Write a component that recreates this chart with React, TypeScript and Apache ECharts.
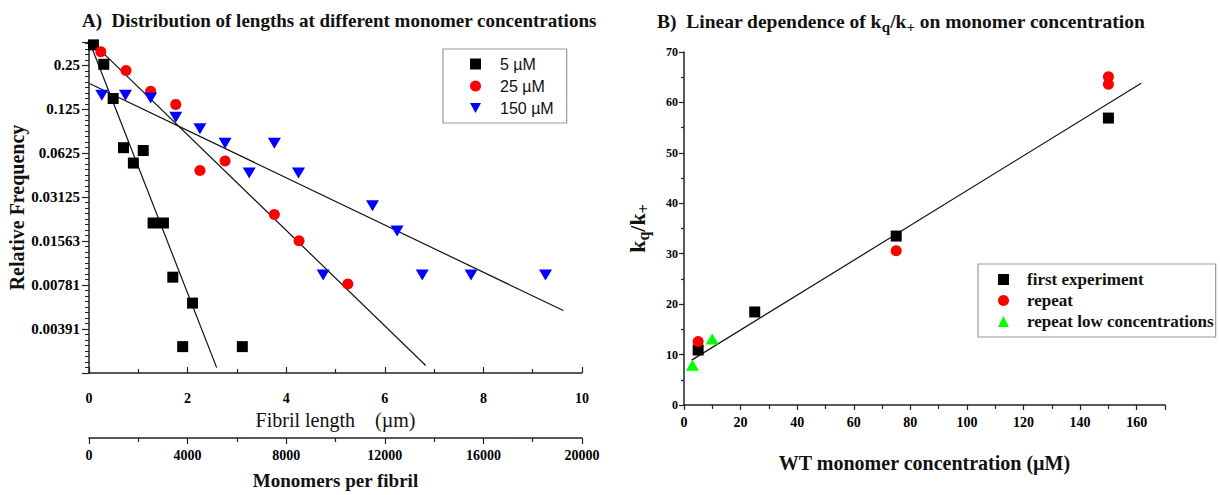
import React, { useEffect, useRef } from "react";
import * as echarts from "echarts";

// ---------- Panel A data ----------
const len5 = [0.09, 0.3, 0.49, 0.7, 0.9, 1.1, 1.3, 1.51, 1.7, 1.9, 2.1, 3.11];
const freq5 = [0.345, 0.254, 0.148, 0.0682, 0.0535, 0.0652, 0.0208, 0.0208, 0.00885, 0.00296, 0.00588, 0.00296];
const len25 = [0.24, 0.75, 1.25, 1.76, 2.25, 2.76, 3.76, 4.26, 5.25];
const freq25 = [0.31, 0.23, 0.166, 0.135, 0.0476, 0.0553, 0.0238, 0.0157, 0.00795];
const len150 = [0.26, 0.74, 1.25, 1.76, 2.25, 2.76, 3.25, 3.76, 4.25, 4.75, 5.75, 6.25, 6.76, 7.75, 9.26];
const freq150 = [0.156, 0.156, 0.149, 0.11, 0.0918, 0.073, 0.0457, 0.073, 0.0457, 0.00916, 0.0273, 0.0183, 0.00916, 0.00916, 0.00916];
const fit5Len = [0.02, 2.59];
const fit5Freq = [0.355, 0.002125];
const fit25Len = [0.2, 6.83];
const fit25Freq = [0.324, 0.0022];
const fit150Len = [0.02, 9.62];
const fit150Freq = [0.187, 0.00523];
const yTickLabels = ["0.25", "0.125", "0.0625", "0.03125", "0.01563", "0.00781", "0.00391"];
const legendA = ["5 µM", "25 µM", "150 µM"];
const freqMin = 0.001953125;
const freqMax = 0.361;

// ---------- Panel B data ----------
const concFirst = [5, 25, 75, 150];
const kFirst = [10.9, 18.45, 33.5, 56.9];
const concRepeat = [5, 75, 150, 150];
const kRepeat = [12.6, 30.6, 63.6, 65.1];
const concLow = [3, 10];
const kLow = [7.9, 13.1];
const fitConc = [2.7, 161.6];
const fitK = [8.9, 63.8];
const legendB = ["first experiment", "repeat", "repeat low concentrations"];

const zip = (xs: number[], ys: number[]) => xs.map((x, i) => [x, ys[i]]);

const SERIF = "Liberation Serif";
const SANS = "Liberation Sans";
const AX = "#222";
const DOWN_TRI = "path://M0,0L10,0L5,9Z";

export default function App() {
  const ref = useRef<HTMLDivElement>(null);
  useEffect(() => {
    if (!ref.current) return;
    const chart = echarts.init(ref.current, null, { renderer: "svg" });
    const boldLabel = (size: number) => ({
      color: "#000",
      fontFamily: SERIF,
      fontWeight: "bold" as const,
      fontSize: size,
      formatter: (v: number) => String(v),
    });
    const fitLine = (name: string, xi: number, yi: number, xs: number[], ys: number[]) => ({
      name,
      type: "line",
      xAxisIndex: xi,
      yAxisIndex: yi,
      data: zip(xs, ys),
      showSymbol: false,
      symbol: "none",
      lineStyle: { color: "#111", width: 1.2 },
      z: 1,
      silent: true,
    });
    const option: any = {
      animation: false,
      backgroundColor: "#fff",
      title: [
        {
          text: "A)  Distribution of lengths at different monomer concentrations",
          left: 82,
          top: 11,
          padding: 0,
          textStyle: { fontFamily: SERIF, fontWeight: "bold", fontSize: 19, color: "#111" },
        },
        {
          text: "{m|B)  Linear dependence of k}{s|q}{m|/k}{s|+}{m| on monomer concentration}",
          left: 657,
          top: 11,
          padding: 0,
          textStyle: {
            rich: {
              m: { fontFamily: SERIF, fontWeight: "bold", fontSize: 19.5, color: "#111", lineHeight: 19, verticalAlign: "top" },
              s: { fontFamily: SERIF, fontWeight: "bold", fontSize: 15, color: "#111", lineHeight: 23, verticalAlign: "bottom" },
            },
          },
        },
      ],
      legend: [
        {
          data: [legendA[0], legendA[1], { name: legendA[2], icon: DOWN_TRI }],
          orient: "vertical",
          left: 443,
          top: 49,
          padding: [7, 13, 7, 27],
          itemWidth: 11,
          itemHeight: 11,
          itemGap: 6,
          borderColor: "#999",
          borderWidth: 1.2,
          textStyle: { fontFamily: SANS, fontSize: 16, color: "#111", padding: [0, 0, 0, 14] },
        },
        {
          data: legendB,
          orient: "vertical",
          left: 978,
          top: 264,
          padding: [7, 2, 7, 20],
          itemWidth: 11,
          itemHeight: 11,
          itemGap: 4,
          borderColor: "#999",
          borderWidth: 1.2,
          textStyle: { fontFamily: SERIF, fontWeight: "bold", fontSize: 17, color: "#111", padding: [0, 0, 0, 13] },
        },
      ],
      grid: [
        { left: 89, top: 42, width: 493, height: 342 },
        { left: 684, top: 52, width: 481, height: 353 },
      ],
      xAxis: [
        {
          gridIndex: 0,
          type: "value",
          min: 0,
          max: 10,
          interval: 2,
          splitLine: { show: false },
          axisLine: { onZero: false, lineStyle: { color: AX, width: 1.5 } },
          axisTick: { inside: true, length: 6, lineStyle: { color: AX, width: 1.2 } },
          minorTick: { show: true, splitNumber: 2, length: 4, lineStyle: { color: AX, width: 1.2 } },
          axisLabel: { ...boldLabel(14), margin: 18 },
          name: "Fibril length    (µm)",
          nameLocation: "middle",
          nameGap: 34,
          nameTextStyle: { fontFamily: SERIF, fontSize: 20, color: "#111" },
        },
        {
          gridIndex: 0,
          type: "value",
          position: "bottom",
          offset: 65,
          min: 0,
          max: 20000,
          interval: 4000,
          splitLine: { show: false },
          axisLine: { onZero: false, lineStyle: { color: AX, width: 1.5 } },
          axisTick: { inside: false, length: 6, lineStyle: { color: AX, width: 1.2 } },
          minorTick: { show: true, splitNumber: 2, length: 4, lineStyle: { color: AX, width: 1.2 } },
          axisLabel: { ...boldLabel(14), margin: 10 },
          name: "Monomers per fibril",
          nameLocation: "middle",
          nameGap: 33,
          nameTextStyle: { fontFamily: SERIF, fontWeight: "bold", fontSize: 19, color: "#111" },
        },
        {
          gridIndex: 1,
          type: "value",
          min: 0,
          max: 170,
          interval: 20,
          splitLine: { show: false },
          axisLine: { onZero: false, lineStyle: { color: AX, width: 1.5 } },
          axisTick: { inside: false, length: 5, lineStyle: { color: AX, width: 1.2 } },
          minorTick: { show: true, splitNumber: 2, length: 4, lineStyle: { color: AX, width: 1.2 } },
          axisLabel: { ...boldLabel(14), margin: 10, showMaxLabel: false },
          name: "WT monomer concentration (µM)",
          nameLocation: "middle",
          nameGap: 48,
          nameTextStyle: { fontFamily: SERIF, fontWeight: "bold", fontSize: 20, color: "#111" },
        },
      ],
      yAxis: [
        {
          gridIndex: 0,
          type: "log",
          logBase: 2,
          min: freqMin,
          max: freqMax,
          splitNumber: 8,
          splitLine: { show: false },
          axisLine: { lineStyle: { color: AX, width: 1.5 } },
          axisTick: { inside: false, length: 7, lineStyle: { color: AX, width: 1.2 } },
          axisLabel: {
            color: "#000",
            fontFamily: SERIF,
            fontWeight: "bold",
            fontSize: 15,
            margin: 9,
            formatter: (v: number) => {
              const l = Math.log2(v);
              const e = Math.round(l);
              if (Math.abs(l - e) > 1e-6) return "";
              return yTickLabels[-2 - e] ?? "";
            },
          },
          name: "Relative Frequency",
          nameLocation: "middle",
          nameGap: 61,
          nameTextStyle: { fontFamily: SERIF, fontWeight: "bold", fontSize: 20, color: "#111" },
          z: 3,
        },
        {
          gridIndex: 1,
          type: "value",
          min: 0,
          max: 70,
          interval: 10,
          splitLine: { show: false },
          axisLine: { onZero: false, lineStyle: { color: AX, width: 1.5 } },
          axisTick: { inside: false, length: 5, lineStyle: { color: AX, width: 1.2 } },
          minorTick: { show: true, splitNumber: 2, length: 3, lineStyle: { color: AX, width: 1.2 } },
          axisLabel: { ...boldLabel(12), margin: 6 },
          name: "{m|k}{s|q}{m|/k}{s|+}",
          nameLocation: "middle",
          nameGap: 33,
          nameTextStyle: {
            rich: {
              m: { fontFamily: SERIF, fontWeight: "bold", fontSize: 22, color: "#111", lineHeight: 22, verticalAlign: "top" },
              s: { fontFamily: SERIF, fontWeight: "bold", fontSize: 16, color: "#111", lineHeight: 25, verticalAlign: "bottom" },
            },
          },
        },
        {
          // minor ticks of the log2 axis (one eighth of a doubling each)
          gridIndex: 0,
          type: "value",
          position: "left",
          min: Math.log2(freqMin),
          max: Math.log2(freqMax),
          interval: 0.125,
          splitLine: { show: false },
          axisLine: { show: false },
          axisTick: { inside: false, length: 4, lineStyle: { color: AX, width: 1 } },
          axisLabel: { show: false },
          silent: true,
        },
      ],
      series: [
        fitLine("fit5", 0, 0, fit5Len, fit5Freq),
        fitLine("fit25", 0, 0, fit25Len, fit25Freq),
        fitLine("fit150", 0, 0, fit150Len, fit150Freq),
        {
          name: legendA[0],
          type: "scatter",
          xAxisIndex: 0,
          yAxisIndex: 0,
          data: zip(len5, freq5),
          symbol: "rect",
          symbolSize: 11,
          itemStyle: { color: "#000", opacity: 1 },
          z: 3,
        },
        {
          name: legendA[1],
          type: "scatter",
          xAxisIndex: 0,
          yAxisIndex: 0,
          data: zip(len25, freq25),
          symbol: "circle",
          symbolSize: 11,
          itemStyle: { color: "#ff0000", opacity: 1 },
          z: 3,
        },
        {
          name: legendA[2],
          type: "scatter",
          xAxisIndex: 0,
          yAxisIndex: 0,
          data: zip(len150, freq150),
          symbol: "triangle",
          symbolRotate: 180,
          symbolSize: [13, 11],
          itemStyle: { color: "#0000ff", opacity: 1 },
          z: 3,
        },
        fitLine("fitB", 2, 1, fitConc, fitK),
        {
          name: legendB[0],
          type: "scatter",
          xAxisIndex: 2,
          yAxisIndex: 1,
          data: zip(concFirst, kFirst),
          symbol: "rect",
          symbolSize: 11,
          itemStyle: { color: "#000", opacity: 1 },
          z: 3,
        },
        {
          name: legendB[1],
          type: "scatter",
          xAxisIndex: 2,
          yAxisIndex: 1,
          data: zip(concRepeat, kRepeat),
          symbol: "circle",
          symbolSize: 11,
          itemStyle: { color: "#ff0000", opacity: 1 },
          z: 3,
        },
        {
          name: legendB[2],
          type: "scatter",
          xAxisIndex: 2,
          yAxisIndex: 1,
          data: zip(concLow, kLow),
          symbol: "triangle",
          symbolSize: [13, 11],
          itemStyle: { color: "#00ff00", opacity: 1 },
          z: 3,
        },
      ],
    };
    chart.setOption(option);
    return () => chart.dispose();
  }, []);
  return (
    <div
      ref={ref}
      style={{ position: "fixed", left: 0, top: 0, width: 1220, height: 495, background: "#fff" }}
    />
  );
}
